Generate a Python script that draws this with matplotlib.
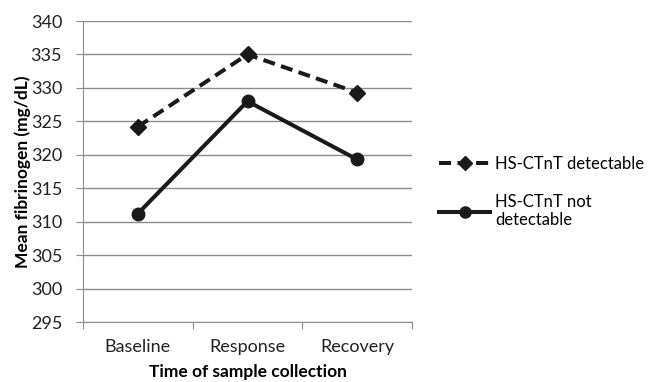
import matplotlib
matplotlib.use("Agg")
import matplotlib.pyplot as plt
from matplotlib.lines import Line2D

categories = ["Baseline", "Response", "Recovery"]
detectable = [324.2, 335.0, 329.3]
not_detectable = [311.2, 328.0, 319.3]
yticks = [295, 300, 305, 310, 315, 320, 325, 330, 335, 340]

plt.rcParams['font.family'] = ['Lato', 'DejaVu Sans']

fig = plt.figure(figsize=(6.49, 3.82), dpi=100)
ax = fig.add_axes([83/649, 1 - 322/382, (412-83)/649, (322-21)/382])

xs = [i + 0.5 for i in range(len(categories))]
ax.plot(xs, detectable, color='#1a1a1a', lw=2.9, ls=(0, (3.0, 1.6)), marker='D', ms=8.5, zorder=3)
ax.plot(xs, not_detectable, color='#1a1a1a', lw=2.9, marker='o', ms=9, zorder=3)

ax.set_xlim(0, 3)
ax.set_ylim(295, 340)
ax.set_yticks(yticks)
ax.set_yticklabels([str(t) for t in yticks], fontsize=13, color='#222222')
ax.yaxis.grid(True, color='#8c8c8c', lw=1)
ax.set_axisbelow(True)
ax.set_xticks([0, 1, 2, 3])
ax.set_xticklabels([])
ax.set_xticks(xs, minor=True)
ax.set_xticklabels(categories, minor=True, fontsize=13, color='#222222')
ax.tick_params(axis='x', which='minor', length=0, pad=12)
ax.tick_params(axis='x', which='major', length=5, color='#8c8c8c', direction='out')
ax.tick_params(axis='y', length=5, color='#8c8c8c', pad=10)
for s in ['top', 'right']:
    ax.spines[s].set_visible(False)
for s in ['left', 'bottom']:
    ax.spines[s].set_color('#8c8c8c')
ax.set_ylabel('Mean fibrinogen (mg/dL)', fontsize=12.5, fontweight='bold', labelpad=0)
ax.set_xlabel('Time of sample collection', fontsize=12.5, fontweight='bold', labelpad=7)

handles = [
    Line2D([], [], color='#1a1a1a', lw=2.9, ls=(0, (3.0, 1.6)), marker='D', ms=7.5),
    Line2D([], [], color='#1a1a1a', lw=2.9, marker='o', ms=8),
]
leg = fig.legend(handles, ['HS-CTnT detectable', 'HS-CTnT not\ndetectable'],
                 loc='center left', bbox_to_anchor=(432/649, 1 - 192/382),
                 frameon=False, fontsize=12, handlelength=3.1, labelspacing=1.3,
                 handletextpad=0.3, borderaxespad=0, borderpad=0.4)
fig.savefig('out.png', dpi=100)
